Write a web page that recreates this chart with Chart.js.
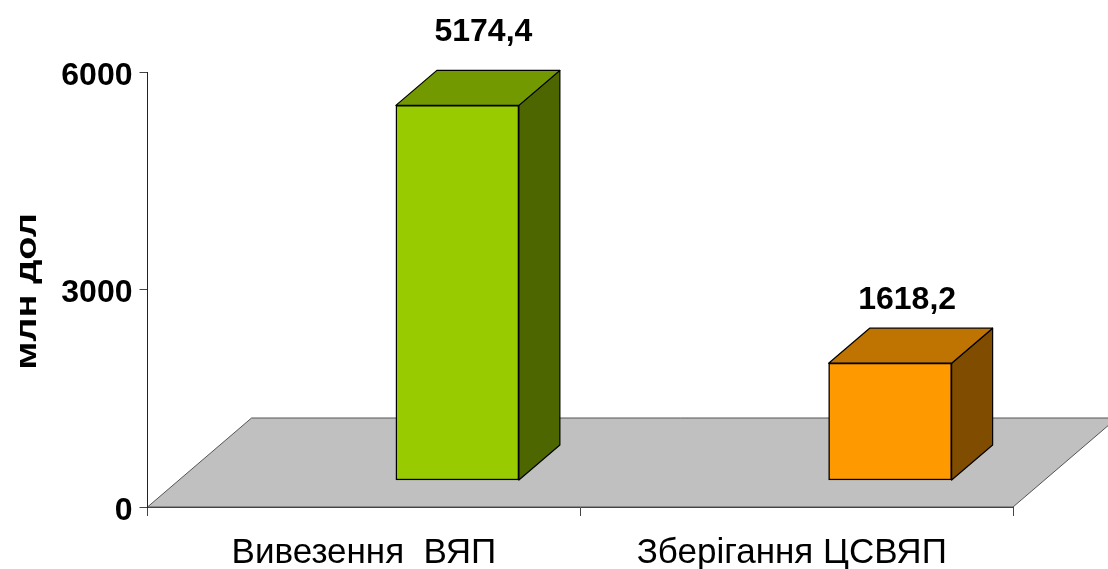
<!DOCTYPE html>
<html lang="uk">
<head>
<meta charset="utf-8">
<title>Витрати</title>
<script src="https://cdn.jsdelivr.net/npm/chart.js@4"></script>
<style>
    html, body { margin: 0; padding: 0; background: #fff; }
    canvas { display: block; }
</style>
</head>
<body>
<canvas id="chart" width="1108" height="569"></canvas>
<script>
// Дані діаграми
const categories = ['Вивезення  ВЯП', 'Зберігання ЦСВЯП '];
const values = [5174.4, 1618.2];
const yTicks = [0, 3000, 6000];
const yTitle = 'млн дол';

// Кольори граней стовпчиків
const frontColors = ['#99CC00', '#FF9900'];
const topColors = ['#739900', '#BF7300'];
const sideColors = ['#4D6600', '#804D00'];

// Параметри псевдо-3D
const depthX = 41;
const depthY = 35;
const barShiftX = 93.5;
const barShiftY = 26.5;
const floorDepthX = 104;
const floorDepthY = 89;
const fontFamily = '"Liberation Sans", Arial, sans-serif';
const labelLift = [38, 28];
const labelShift = [26, 17];

function fillFace(ctx, points, color) {
    ctx.beginPath();
    points.forEach((p, i) => (i ? ctx.lineTo(p[0], p[1]) : ctx.moveTo(p[0], p[1])));
    ctx.closePath();
    ctx.fillStyle = color;
    ctx.fill();
    ctx.stroke();
}

// Підлога, бічні грані стовпчиків і підписи
const bars3d = {
    id: 'bars3d',
    beforeDatasetsDraw(chart) {
        const { ctx, chartArea, scales } = chart;
        const y0 = scales.y.getPixelForValue(0);
        ctx.save();
        ctx.strokeStyle = '#555';
        ctx.lineWidth = 1;
        fillFace(ctx, [
            [chartArea.left, y0],
            [chartArea.left + floorDepthX, y0 - floorDepthY],
            [chartArea.right + floorDepthX, y0 - floorDepthY],
            [chartArea.right, y0]
        ], '#C0C0C0');
        ctx.restore();
    },
    beforeDatasetDraw(chart) {
        const { ctx } = chart;
        ctx.save();
        ctx.translate(barShiftX, -barShiftY);
        ctx.strokeStyle = '#000';
        ctx.lineWidth = 1.2;
        ctx.lineJoin = 'round';
        chart.getDatasetMeta(0).data.forEach((bar, i) => {
            const left = bar.x - bar.width / 2;
            const right = bar.x + bar.width / 2;
            fillFace(ctx, [
                [right, bar.y],
                [right + depthX, bar.y - depthY],
                [right + depthX, bar.base - depthY],
                [right, bar.base]
            ], sideColors[i]);
            fillFace(ctx, [
                [left, bar.y],
                [left + depthX, bar.y - depthY],
                [right + depthX, bar.y - depthY],
                [right, bar.y]
            ], topColors[i]);
        });
    },
    afterDatasetDraw(chart) {
        chart.ctx.restore();
    },
    afterDatasetsDraw(chart) {
        const { ctx, chartArea } = chart;
        ctx.save();
        ctx.font = 'bold 32px ' + fontFamily;
        ctx.fillStyle = '#000';
        ctx.textAlign = 'center';
        ctx.textBaseline = 'middle';
        chart.getDatasetMeta(0).data.forEach((bar, i) => {
            const text = values[i].toFixed(1).replace('.', ',');
            ctx.fillText(text, bar.x + barShiftX + labelShift[i], bar.y - barShiftY - depthY - labelLift[i]);
        });
        // Підпис осі Y трохи розтягнутий уздовж тексту
        ctx.font = 'bold 30px ' + fontFamily;
        ctx.translate(28, (chartArea.top + chartArea.bottom) / 2 + 2);
        ctx.rotate(-Math.PI / 2);
        ctx.scale(1.27, 1);
        ctx.fillText(yTitle, 0, 0);
        ctx.restore();
    }
};

new Chart(document.getElementById('chart'), {
    type: 'bar',
    data: {
        labels: categories,
        datasets: [{
            data: values,
            backgroundColor: frontColors,
            borderColor: '#000',
            borderWidth: 1.5,
            borderSkipped: false,
            barThickness: 123,
            clip: false
        }]
    },
    options: {
        responsive: false,
        animation: false,
        layout: { padding: { top: 72, right: 95, left: 0, bottom: 0 } },
        plugins: {
            legend: { display: false },
            title: { display: false },
            tooltip: { enabled: false }
        },
        scales: {
            x: {
                afterFit(scale) { scale.height = 62; },
                border: { color: '#444', z: 1 },
                grid: { drawOnChartArea: false, tickLength: 9, tickColor: '#444' },
                ticks: {
                    autoSkip: false,
                    maxRotation: 0,
                    padding: 16,
                    color: '#000',
                    font: { family: fontFamily, size: 35 }
                }
            },
            y: {
                min: 0,
                max: 6000,
                afterFit(scale) { scale.width = 147.5; },
                afterBuildTicks(scale) { scale.ticks = yTicks.map(v => ({ value: v })); },
                border: { color: '#222', z: 1 },
                grid: { drawOnChartArea: false, tickLength: 8, tickColor: '#444' },
                ticks: {
                    padding: 7,
                    labelOffset: 4,
                    color: '#000',
                    callback: value => String(value),
                    font: { family: fontFamily, size: 32, weight: 'bold' }
                }
            }
        }
    },
    plugins: [bars3d]
});
</script>
</body>
</html>
